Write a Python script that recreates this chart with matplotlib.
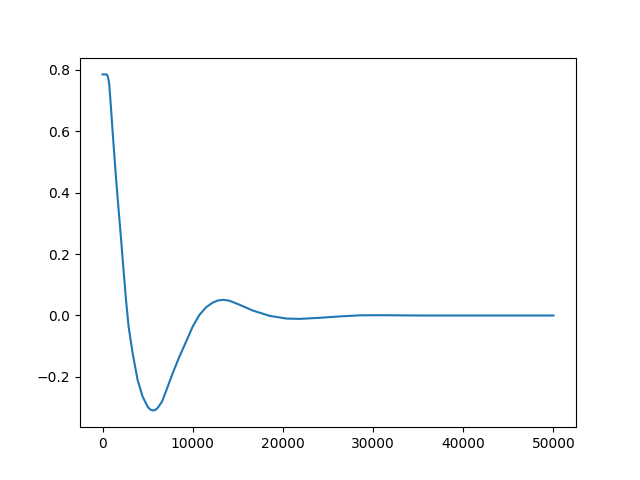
import numpy as np
import matplotlib
matplotlib.use("Agg")
import matplotlib.pyplot as plt

# values
time = [0, 444, 560, 650, 744, 933, 1111, 1300, 1489, 1667, 1856, 2044,
        2300, 2600, 2889, 3333, 3889, 4444, 5000, 5280, 5556, 5830, 6111,
        6600, 7044, 7778, 8522, 9267, 10000, 10744, 11489, 12222, 12800,
        13400, 14078, 15189, 16667, 18522, 20378, 21856, 24078, 26300,
        28522, 30744, 35000, 40000, 45000, 50000]
angle = [0.785, 0.785, 0.780, 0.770, 0.753, 0.677, 0.601, 0.525, 0.449,
         0.385, 0.318, 0.252, 0.158, 0.051, -0.036, -0.122, -0.210,
         -0.264, -0.297, -0.306, -0.309, -0.308, -0.301, -0.280, -0.246,
         -0.188, -0.134, -0.085, -0.036, 0.002, 0.027, 0.042, 0.049, 0.051,
         0.048, 0.035, 0.016, -0.001, -0.010, -0.011, -0.0075, -0.003,
         0.0005, 0.001, 0.0, 0.0, 0.0, 0.0]

fig, ax = plt.subplots(figsize=(6.4, 4.8), dpi=100)
ax.plot(np.array(time), np.array(angle))
fig.savefig("out.png")
